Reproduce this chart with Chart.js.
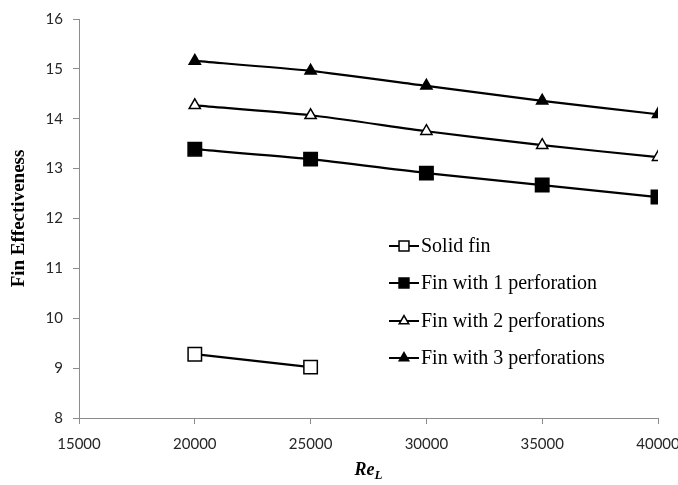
<!DOCTYPE html>
<html lang="en">
<head>
    <meta charset="UTF-8">
    <title>Fin Effectiveness vs Re_L</title>
    <script src="https://cdn.jsdelivr.net/npm/chart.js"></script>
    <style>
        html, body { margin: 0; padding: 0; background: #fff; overflow: hidden; }
        .chart-container { position: relative; width: 700px; height: 485px; }
    </style>
</head>
<body>
    <div class="chart-container">
        <canvas id="finChart"></canvas>
    </div>
    <script>
        // Reynolds numbers on the x axis
        const reynolds = [20000, 25000, 30000, 35000, 40000];

        // Fin effectiveness
        const solidFin = [9.28, 9.02];
        const oneHole = [13.39, 13.19, 12.91, 12.67, 12.43];
        const twoHoles = [14.27, 14.07, 13.75, 13.47, 13.23];
        const threeHoles = [15.16, 14.96, 14.66, 14.36, 14.09];

        const seriesNames = ['Solid fin', 'Fin with 1 perforation', 'Fin with 2 perforations', 'Fin with 3 perforations'];

        const xTicks = [15000, 20000, 25000, 30000, 35000, 40000];
        const yTicks = [8, 9, 10, 11, 12, 13, 14, 15, 16];

        const toPoints = vals => vals.map((v, i) => ({ x: reynolds[i], y: v }));

        function makeSet(label, vals, style, filled, radius) {
            return {
                label: label,
                data: toPoints(vals),
                borderColor: '#000',
                borderWidth: 2.2,
                pointStyle: style,
                pointRadius: radius,
                pointBorderWidth: 1.5,
                pointBorderColor: '#000',
                pointBackgroundColor: filled ? '#000' : '#fff',
                tension: 0.2,
                fill: false
            };
        }

        // legend drawn inside the plot, Excel style: line through marker
        const insideLegend = {
            id: 'insideLegend',
            afterDraw(chart) {
                const ctx = chart.ctx;
                const x0 = 389, x1 = 419, tx = 421;
                const rows = [246, 283, 321, 358];
                ctx.save();
                chart.data.datasets.forEach((ds, i) => {
                    const y = rows[i];
                    ctx.strokeStyle = '#000';
                    ctx.lineWidth = 2;
                    ctx.beginPath();
                    ctx.moveTo(x0, y);
                    ctx.lineTo(x1, y);
                    ctx.stroke();
                    ctx.fillStyle = ds.pointBackgroundColor;
                    ctx.lineWidth = 1.5;
                    Chart.helpers.drawPoint(ctx, {
                        pointStyle: ds.pointStyle,
                        radius: ds.pointStyle === 'rect' ? 7 : 5.5,
                        borderWidth: 1.5
                    }, (x0 + x1) / 2, y);
                    ctx.fillStyle = '#000';
                    ctx.font = '20px "Liberation Serif", serif';
                    ctx.textAlign = 'left';
                    ctx.textBaseline = 'middle';
                    ctx.fillText(ds.label, tx, y + 1);
                });
                ctx.restore();
            }
        };

        // axis titles (x title needs a subscript)
        const axisTitles = {
            id: 'axisTitles',
            afterDraw(chart) {
                const ctx = chart.ctx;
                const area = chart.chartArea;
                ctx.save();
                ctx.fillStyle = '#000';
                ctx.textBaseline = 'alphabetic';
                ctx.font = 'bold italic 18px "Liberation Serif", serif';
                const reW = ctx.measureText('Re').width;
                ctx.font = 'bold italic 13px "Liberation Serif", serif';
                const lW = ctx.measureText('L').width;
                const cx = (area.left + area.right) / 2 - (reW + lW) / 2;
                ctx.font = 'bold italic 18px "Liberation Serif", serif';
                ctx.textAlign = 'left';
                ctx.fillText('Re', cx, 475);
                ctx.font = 'bold italic 13px "Liberation Serif", serif';
                ctx.fillText('L', cx + reW, 479);

                ctx.translate(19, (area.top + area.bottom) / 2);
                ctx.rotate(-Math.PI / 2);
                ctx.textAlign = 'center';
                ctx.textBaseline = 'middle';
                ctx.font = 'bold 19px "Liberation Serif", serif';
                ctx.fillText('Fin Effectiveness', 0, 0);
                ctx.restore();
            }
        };

        const ctx = document.getElementById('finChart').getContext('2d');
        new Chart(ctx, {
            type: 'line',
            data: {
                datasets: [
                    makeSet(seriesNames[0], solidFin, 'rect', false, 9.5),
                    makeSet(seriesNames[1], oneHole, 'rect', true, 9.5),
                    makeSet(seriesNames[2], twoHoles, 'triangle', false, 6.5),
                    makeSet(seriesNames[3], threeHoles, 'triangle', true, 6.5)
                ]
            },
            options: {
                responsive: true,
                maintainAspectRatio: false,
                animation: false,
                layout: { padding: { top: 19, right: 42, bottom: 0, left: 0 } },
                plugins: {
                    legend: { display: false },
                    tooltip: { enabled: false }
                },
                scales: {
                    x: {
                        type: 'linear',
                        min: 15000,
                        max: 40000,
                        afterBuildTicks: s => { s.ticks = xTicks.map(v => ({ value: v })); },
                        afterFit: s => { s.height = 67; },
                        grid: {
                            display: true,
                            drawOnChartArea: false,
                            drawTicks: true,
                            tickLength: 6,
                            color: '#8c8c8c'
                        },
                        border: { color: '#8c8c8c', width: 1 },
                        ticks: {
                            padding: 11,
                            maxRotation: 0,
                            autoSkip: false,
                            color: '#262626',
                            font: { family: 'Lato', size: 15 },
                            callback: v => String(v)
                        }
                    },
                    y: {
                        min: 8,
                        max: 16,
                        afterBuildTicks: s => { s.ticks = yTicks.map(v => ({ value: v })); },
                        afterFit: s => { s.width = 79; },
                        grid: {
                            display: true,
                            drawOnChartArea: false,
                            drawTicks: true,
                            tickLength: 6,
                            color: '#8c8c8c'
                        },
                        border: { color: '#8c8c8c', width: 1 },
                        ticks: {
                            padding: 10,
                            color: '#262626',
                            font: { family: 'Lato', size: 15 }
                        }
                    }
                }
            },
            plugins: [insideLegend, axisTitles]
        });
    </script>
</body>
</html>
